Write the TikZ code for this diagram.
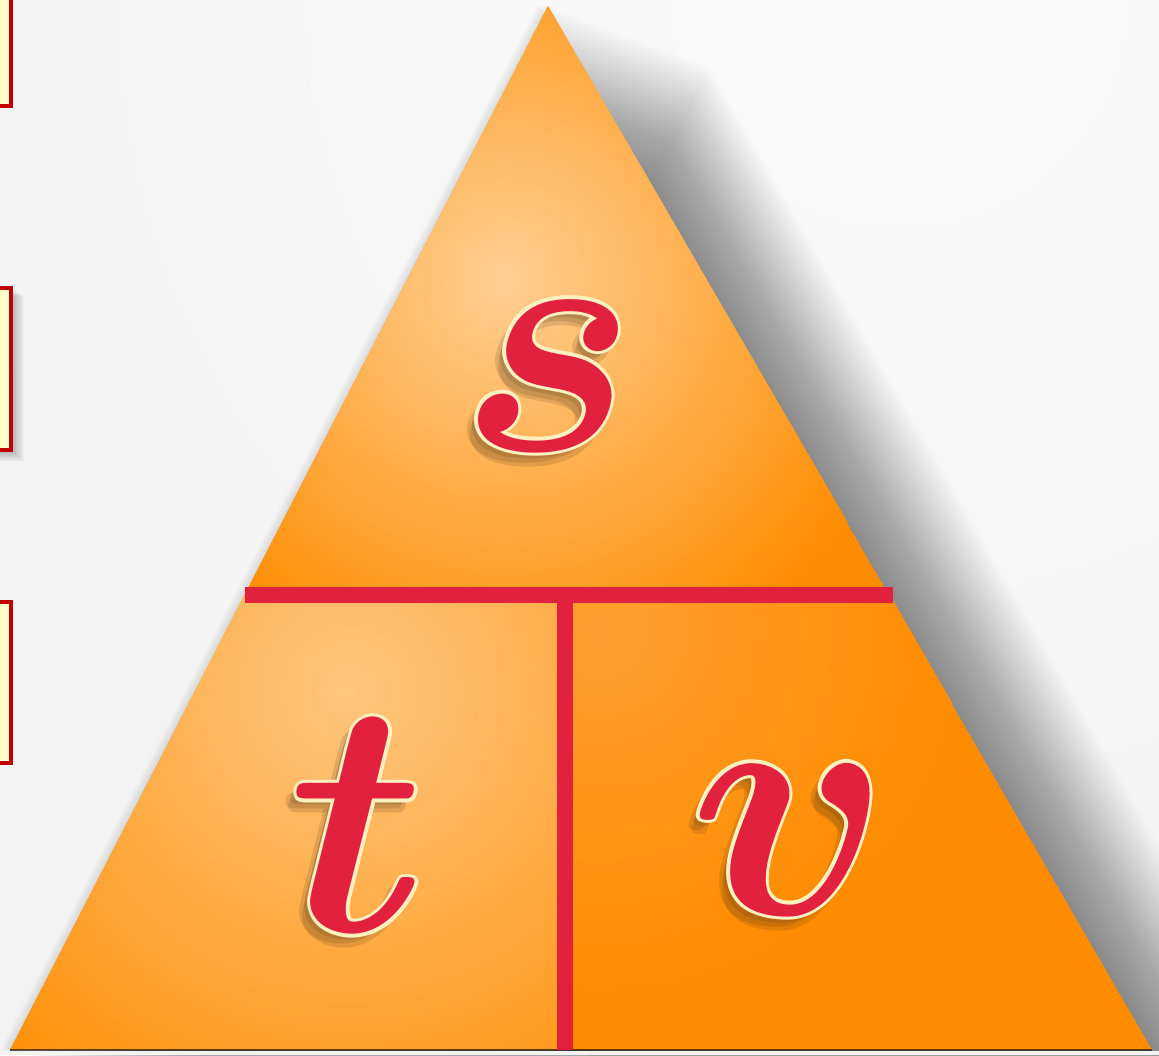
\documentclass[tikz,border=0pt]{standalone}
\usepackage{bm}
\definecolor{bgc}{HTML}{F3F3F3}
\definecolor{orbase}{HTML}{FF8C00}
\definecolor{hlup}{HTML}{FFCF92}
\definecolor{hllow}{HTML}{FFC67E}
\definecolor{hlright}{HTML}{FF9E30}
\definecolor{lred}{HTML}{E2213F}
\definecolor{cream}{HTML}{FFF0C0}
\definecolor{boxfill}{HTML}{FFFFCC}
\definecolor{boxline}{HTML}{C00000}
\definecolor{baseline}{HTML}{B86A20}
\tikzset{
  letter/.style={scale=19, inner sep=0pt, text=lred},
  bar/.style={draw=lred, line width=9.6pt},
  sidebox/.style={fill=boxfill, draw=boxline, line width=2.3pt},
}
\newcommand\mkletter[4]{%
  \foreach \dx/\dy in {-6/6,-11/10,-8/14}{%
    \node[letter, text=black!60!brown, opacity=0.16] at (#2+\dx,#3+\dy) {$\bm{#4}$};}
  \foreach \a in {0,45,...,315}{%
    \node[letter, text=cream] at ($(#2,#3)+(\a:3.5)$) {$\bm{#4}$};}
  \node[letter] (#1) at (#2,#3) {$\bm{#4}$};
}
\usetikzlibrary{calc}
\begin{document}
\begin{tikzpicture}[x=0.02cm,y=-0.02cm]
\useasboundingbox (0,0) rectangle (1159,1055);
\clip (0,0) rectangle (1159,1055);
\fill[bgc] (0,0) rectangle (1159,1055);
\shade[inner color=white, outer color=bgc, opacity=0.5] (900,0) circle (1100);
% side boxes
\foreach \i in {1,...,8}{%
  \fill[black, opacity=0.035] (-20,{288+\i}) rectangle ({11+\i*1.6},{450+\i*1.4});}
\draw[sidebox] (-20,-20) rectangle (11,106);
\draw[sidebox] (-20,288) rectangle (11,450);
\draw[sidebox] (-20,602) rectangle (11,763);
% triangle shadow
\foreach \i in {1,...,40}{%
  \fill[black, opacity=0.012, shift={(\i*4,\i*1.5)}] (548,6) -- (10,1050) -- (1152,1050) -- cycle;}
\foreach \i in {1,...,5}{%
  \fill[black, opacity=0.02, shift={(-\i*2,0)}] (548,6) -- (10,1050) -- (1152,1050) -- cycle;}
\fill[bgc] (0,1051) rectangle (1159,1055);
% triangle
\coordinate (apex) at (548,6);
\coordinate (bl) at (10,1050);
\coordinate (br) at (1152,1050);
\coordinate (hl) at (244.5,595);
\coordinate (hr) at (890,595);
\coordinate (hm) at (565,595);
\coordinate (bm) at (565,1050);
\fill[orbase] (apex) -- (bl) -- (br) -- cycle;
\begin{scope}
  \clip (apex) -- (hl) -- (hr) -- cycle;
  \shade[inner color=hlup, outer color=orbase] (505,280) circle (420);
\end{scope}
\begin{scope}
  \clip (hl) -- (hm) -- (bm) -- (bl) -- cycle;
  \shade[inner color=hllow, outer color=orbase] (350,690) circle (540);
\end{scope}
\begin{scope}
  \clip (hm) -- (hr) -- (br) -- (bm) -- cycle;
  \shade[inner color=hlright, outer color=orbase] (600,630) circle (360);
\end{scope}
\draw[baseline, line width=1.5pt, opacity=0.6] (bl) -- (br);
% bars
\draw[bar] (hl) -- ($(hr)+(3,0)$);
\draw[bar] (hm) -- (bm);
% letters
\mkletter{s}{548}{376}{s}
\mkletter{t}{358}{826}{t}
\mkletter{v}{790}{840}{v}
\end{tikzpicture}
\end{document}
